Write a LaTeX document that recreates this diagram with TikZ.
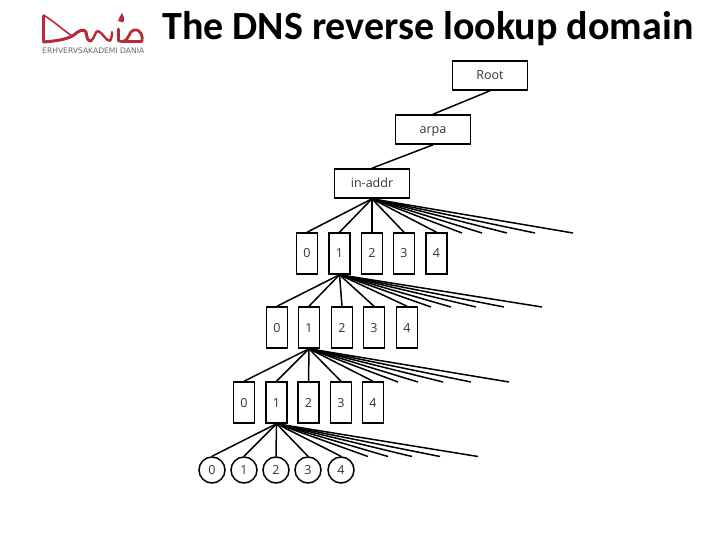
\documentclass[tikz,border=0pt]{standalone}
\usepackage{fontspec}
\setmainfont[Numbers=Lining]{Open Sans}
\newfontfamily\titlefont{Carlito}
\newfontfamily\logofont{DejaVu Sans}
\definecolor{danred}{HTML}{B72B38}
\tikzset{
  x=1pt,y=-1pt,
  lbl/.style={inner sep=0pt,text height=9pt,text depth=0pt,font=\fontsize{12.5}{13}\selectfont,text=black!80},
  wbox/.style={lbl,draw=black,line width=1.6pt,minimum width=75pt,minimum height=29pt},
  nbox/.style={lbl,draw=black,line width=1.5pt,minimum width=21pt,minimum height=41pt},
  ncirc/.style={lbl,draw=black,circle,line width=1.5pt,minimum size=26pt},
  link/.style={line width=1.5pt,black},
  logo/.style={draw=danred,line width=2.6pt,line join=round,line cap=round}
}
\begin{document}
\begin{tikzpicture}
\useasboundingbox (0,0) rectangle (720,540);
% title
\node[anchor=base west,inner sep=0pt,font=\titlefont\bfseries\fontsize{40}{41}\selectfont] (title) at (162,40) {The DNS reverse lookup domain};
% logo
\draw[logo] (43.5,16) -- (43.5,41);
\draw[logo,line width=1.6pt] (43.5,15) .. controls (52,20) and (62,29) .. (72,36);
\draw[logo,line width=3pt] (43.5,42) .. controls (55,41) and (66,40) .. (74,35) .. controls (78,31) and (84,28) .. (86,32) .. controls (87,37) and (87,41) .. (91,41);
\draw[logo,line width=2.4pt] (91,41) .. controls (95,38) and (95,31) .. (98,31) .. controls (102,32) and (106,41) .. (110,41) .. controls (112,38) and (112,34) .. (112,32);
\draw[logo] (118.5,29) -- (118.5,41) -- (122,41.5);
\draw[logo,line width=2.8pt] (122,41.5) .. controls (130,41) and (128,31) .. (134,30) .. controls (141,29) and (143,36) .. (142,41.5) -- (122,41.5);
\fill[danred] (118,21) .. controls (118,18) and (121,16) .. (122,13) .. controls (124,16) and (125,20) .. (123,22.5) -- cycle;
\node[anchor=base west,inner sep=0pt,font=\logofont\fontsize{7.6}{8}\selectfont,text=black!60] (slogan) at (42,53.5) {ERHVERVSAKADEMI  DANIA};
% nodes
\node[wbox] (root) at (490,75.5) {Root};
\node[wbox] (arpa) at (433,129.5) {arpa};
\node[wbox] (inaddr) at (372,183.5) {in-addr};
\foreach \n/\x/\t in {a/307/0,b/339.5/1,c/372/2,d/404/3,e/436.5/4} \node[nbox] (r1\n) at (\x,253.5) {\t};
\foreach \n/\x/\t in {a/277/0,b/309/1,c/342/2,d/374/3,e/407/4} \node[nbox] (r2\n) at (\x,327.5) {\t};
\foreach \n/\x/\t in {a/244/0,b/276.5/1,c/308.5/2,d/341/3,e/373/4} \node[nbox] (r3\n) at (\x,402.5) {\t};
\foreach \n/\x/\t in {a/212/0,b/244/1,c/276/2,d/308/3,e/341/4} \node[ncirc] (r4\n) at (\x,470) {\t};
% free ends
\foreach \i/\x in {1/462,2/482,3/507,4/535,5/573} \coordinate (fa\i) at (\x,233);
\foreach \i/\x in {1/431,2/451,3/476,4/504,5/542} \coordinate (fb\i) at (\x,307);
\foreach \i/\x in {1/398,2/418,3/443,4/471,5/509} \coordinate (fc\i) at (\x,382);
\foreach \i/\x in {1/368,2/388,3/412,4/440,5/478} \coordinate (fd\i) at (\x,456.5);
% connectors
\draw[link] (root.south) -- (arpa.north);
\draw[link] (arpa.south) -- (inaddr.north);
\foreach \n in {a,b,c,d,e} {
  \draw[link] (inaddr.south) -- (r1\n.north);
  \draw[link] (r1b.south) -- (r2\n.north);
  \draw[link] (r2b.south) -- (r3\n.north);
  \draw[link] (r3b.south) -- (r4\n.north);
}
\foreach \i in {1,...,5} {
  \draw[link] (inaddr.south) -- (fa\i);
  \draw[link] (r1b.south) -- (fb\i);
  \draw[link] (r2b.south) -- (fc\i);
  \draw[link] (r3b.south) -- (fd\i);
}
\end{tikzpicture}
\end{document}
